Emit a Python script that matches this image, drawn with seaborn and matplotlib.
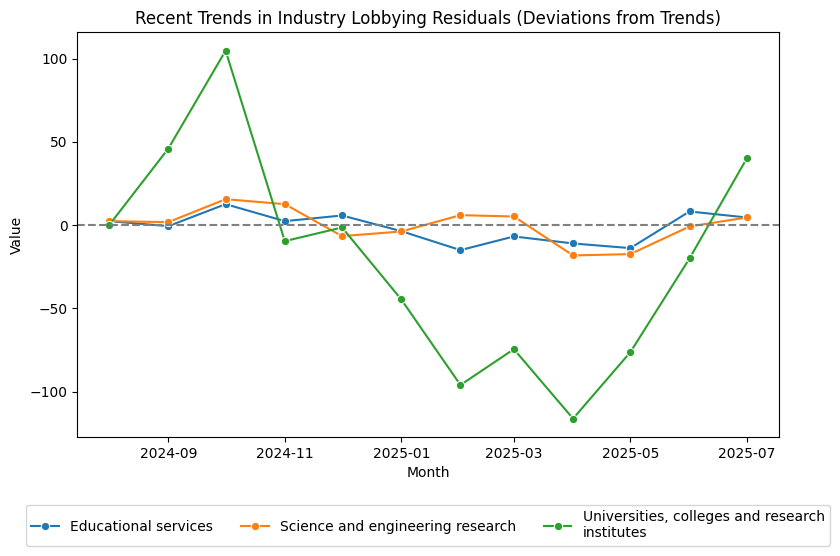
import pandas as pd
import matplotlib
matplotlib.use("Agg")
import matplotlib.pyplot as plt
import seaborn as sns

# Monthly residuals
months = pd.date_range("2024-08-01", "2025-07-01", freq="MS")
educational = [2.4, -0.6, 12.6, 2.4, 5.8, -3.6, -15.0, -6.8, -11.0, -13.8, 8.2, 4.6]
science = [2.4, 1.8, 15.6, 12.6, -6.6, -3.8, 6.0, 5.2, -18.2, -17.4, -0.8, 4.6]
universities = [0.0, 46.0, 104.8, -9.6, -1.4, -44.6, -96.0, -74.5, -116.2, -76.3, -20.0, 40.1]

series_names = [
    "Educational services",
    "Science and engineering research",
    "Universities, colleges and research\ninstitutes",
]

df = pd.concat([
    pd.DataFrame({"Month": months, "Value": vals, "Industry": name})
    for name, vals in zip(series_names, [educational, science, universities])
], ignore_index=True)

fig, ax = plt.subplots(figsize=(8.4, 5.56), dpi=100)
sns.lineplot(data=df, x="Month", y="Value", hue="Industry", marker="o", ax=ax)

ax.axhline(0, color="gray", linestyle="--", linewidth=1.5)
ax.set_title("Recent Trends in Industry Lobbying Residuals (Deviations from Trends)")
ax.set_xlabel("Month")
ax.set_ylabel("Value")

handles, labels = ax.get_legend_handles_labels()
ax.get_legend().remove()
ax.legend(handles, labels, loc="upper center", bbox_to_anchor=(0.5, -0.15), ncol=3)

fig.subplots_adjust(left=0.092, right=0.927, top=0.942, bottom=0.214)
fig.savefig("out.png", dpi=100)
